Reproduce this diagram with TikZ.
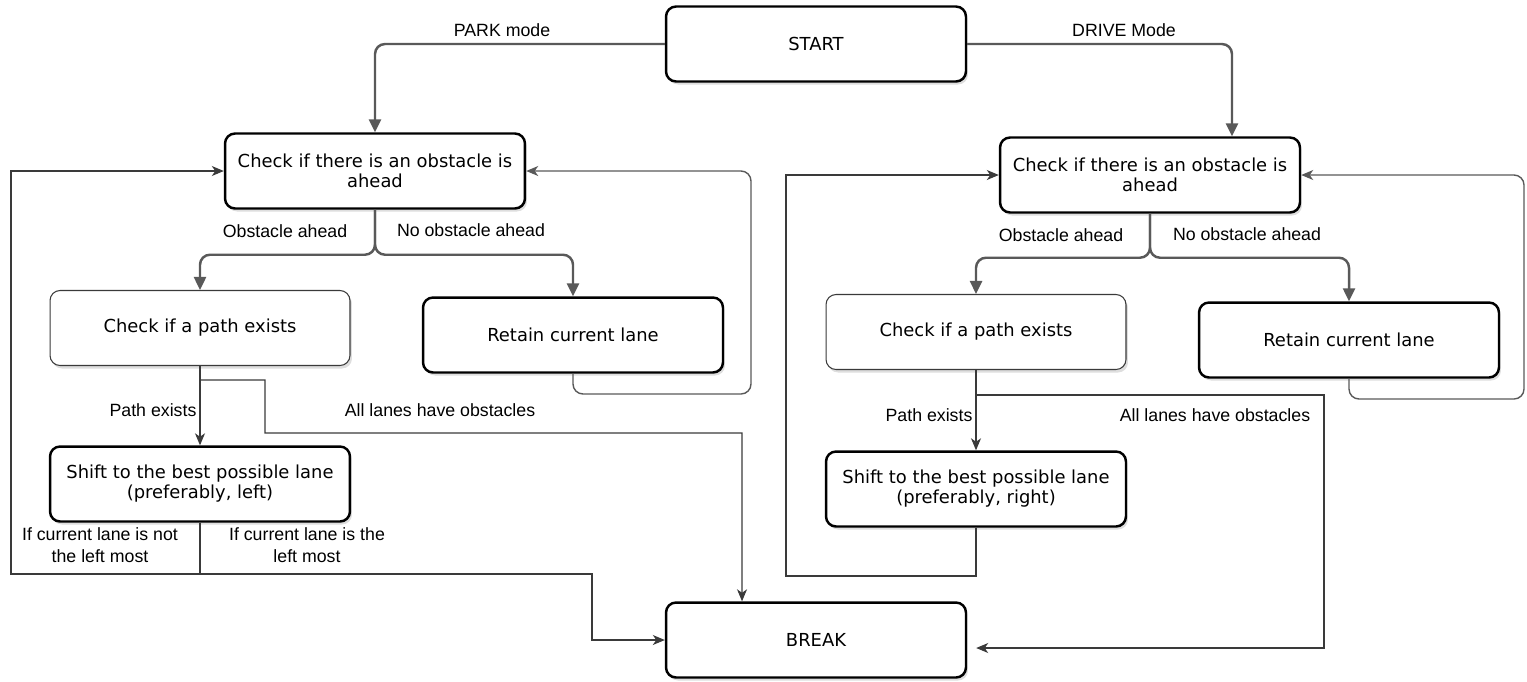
\documentclass[tikz,border=0pt]{standalone}
\usepackage{fontspec}
\setmainfont{DejaVu Sans}
\newfontfamily\labelfont{Liberation Sans}
\usetikzlibrary{arrows.meta,shadows}
\definecolor{lineGrey}{HTML}{595959}
\definecolor{thinGrey}{HTML}{3A3A3A}
\definecolor{shadowGrey}{HTML}{A0A0A0}

\begin{document}
\begin{tikzpicture}[x=0.02cm, y=-0.02cm,
    box/.style={draw=black, line width=1.4pt, fill=white, rounded corners=0.2cm,
      minimum width=6cm, minimum height=1.5cm, align=center,
      font=\fontsize{10.2}{11.4}\selectfont,
      drop shadow={shadow xshift=0.04cm, shadow yshift=-0.06cm, opacity=0.35, fill=shadowGrey}},
    thinbox/.style={box, draw=thinGrey, line width=0.6pt},
    lbl/.style={align=center, inner sep=0pt, font=\labelfont\fontsize{10.1}{12.5}\selectfont},
    flow/.style={draw=lineGrey, line width=1.4pt, rounded corners=0.2cm,
      -{Triangle[length=0.26cm, width=0.24cm]}},
    back/.style={draw=lineGrey, line width=0.8pt, rounded corners=0.2cm,
      -{Stealth[length=0.24cm, width=0.2cm, inset=0.07cm]}},
    link/.style={draw=thinGrey, line width=0.6pt,
      -{Stealth[length=0.24cm, width=0.2cm, inset=0.07cm]}}]
    \useasboundingbox (0,0) rectangle (1527,681);

    % Kästen
    \node[box] (start) at (816,44) {START};
    \node[box] (brk) at (816,640) {BREAK};

    \node[box] (chkL) at (375,171) {Check if there is an obstacle is\\ahead};
    \node[thinbox] (pathL) at (200,328) {Check if a path exists};
    \node[box] (retL) at (573,335) {Retain current lane};
    \node[box] (shiftL) at (200,484) {Shift to the best possible lane\\(preferably, left)};

    \node[box] (chkR) at (1150,175) {Check if there is an obstacle is\\ahead};
    \node[thinbox] (pathR) at (976,332) {Check if a path exists};
    \node[box] (retR) at (1349,340) {Retain current lane};
    \node[box] (shiftR) at (976,489) {Shift to the best possible lane\\(preferably, right)};

    % Beschriftungen
    \node[lbl] (lpark) at (502,30) {PARK mode};
    \node[lbl] (ldrive) at (1124,30) {DRIVE Mode};
    \node[lbl] (lobsL) at (285,231) {Obstacle ahead};
    \node[lbl] (lnoL) at (471,230) {No obstacle ahead};
    \node[lbl] (lobsR) at (1061,235) {Obstacle ahead};
    \node[lbl] (lnoR) at (1247,234) {No obstacle ahead};
    \node[lbl] (lpathL) at (153,410) {Path exists};
    \node[lbl] (lallL) at (440,410) {All lanes have obstacles};
    \node[lbl] (lpathR) at (929,415) {Path exists};
    \node[lbl] (lallR) at (1215,415) {All lanes have obstacles};
    \node[lbl] (lnotL) at (100,545) {If current lane is not\\the left most};
    \node[lbl] (lisL) at (307,545) {If current lane is the\\left most};

    % Modus-Pfeile
    \draw[flow] (start.west) -| (chkL.north);
    \draw[flow] (start.east) -| ([xshift=1.64cm]chkR.north);

    % Verzweigungen nach der Hinderniserkennung
    \draw[flow] (chkL.south) -- ++(0,45) -| (pathL.north);
    \draw[flow] (chkL.south) -- ++(0,45) -| (retL.north);
    \draw[flow] (chkR.south) -- ++(0,44) -| (pathR.north);
    \draw[flow] (chkR.south) -- ++(0,44) -| (retR.north);

    % Spur beibehalten -> erneut prüfen
    \draw[back] (retL.south) |- (751,394) |- (chkL.east);
    \draw[back] (retR.south) |- (1524,399) |- (chkR.east);

    % linke Seite (PARK)
    \draw[link] (pathL.south) -- (shiftL.north);
    \draw[link] (pathL.south) |- (265,380) |- (742,433) -- ([xshift=-1.48cm]brk.north);
    \draw[link] (shiftL.south) |- (11,574) |- (chkL.west);
    \draw[link] (shiftL.south) |- (592,574) |- (brk.west);

    % rechte Seite (DRIVE)
    \draw[link] (pathR.south) -- (shiftR.north);
    \draw[link, shorten >=0.18cm] (pathR.south) |- (1324,395) |- ([yshift=-0.16cm]brk.east);
    \draw[link] (shiftR.south) |- (786,576) |- (chkR.west);
\end{tikzpicture}
\end{document}
